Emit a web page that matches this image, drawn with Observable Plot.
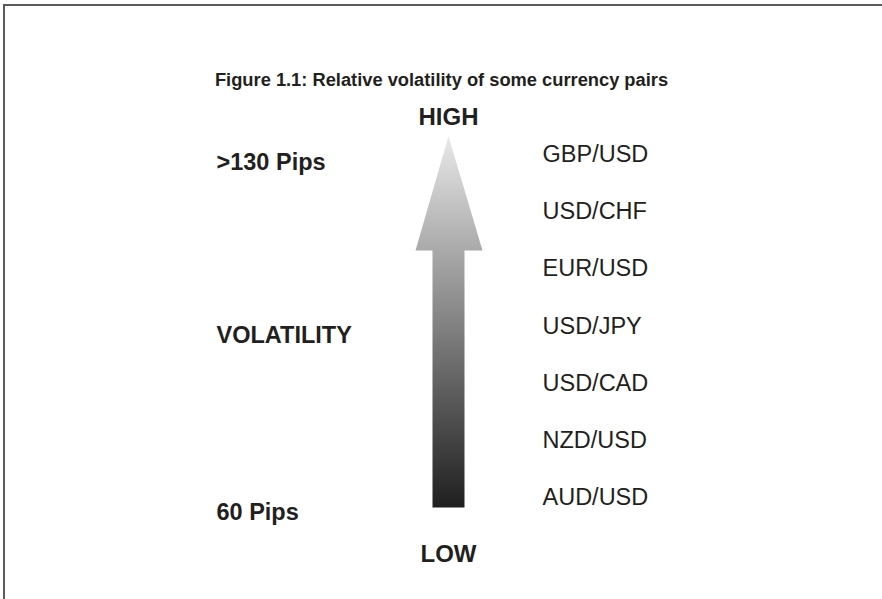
<!DOCTYPE html>
<html>
<head>
<meta charset="utf-8">
<script src="https://cdn.jsdelivr.net/npm/d3@7"></script>
<script src="https://cdn.jsdelivr.net/npm/@observablehq/plot@0.6"></script>
<style>
  html, body { margin: 0; padding: 0; background: #fff; }
  #wrap { position: relative; width: 882px; height: 599px; overflow: hidden; }
  #frame { position: absolute; left: 3px; top: 4px; width: 900px; height: 700px;
           border-left: 2px solid #5a5a5a; border-top: 2px solid #5a5a5a; pointer-events: none; }
</style>
</head>
<body>
<div id="wrap"><div id="frame"></div></div>
<script>
// Display order top to bottom in the figure (highest volatility first)
const pairsTopDown = ["GBP/USD", "USD/CHF", "EUR/USD", "USD/JPY", "USD/CAD", "NZD/USD", "AUD/USD"];
const leftLabels = [">130 Pips", "VOLATILITY", "60 Pips"];
const leftLevels = [5.86, 2.83, -0.26];
const endLabels = ["HIGH", "LOW"];
const endLevels = [6.65, -1.0];
const titleText = "Figure 1.1: Relative volatility of some currency pairs";

const pairRows = pairsTopDown.map((p, i) => ({label: p, level: pairsTopDown.length - 1 - i}));
const leftRows = leftLabels.map((l, i) => ({label: l, level: leftLevels[i]}));
const endRows = endLabels.map((l, i) => ({label: l, level: endLevels[i]}));

// Arrow outline in (column, level) space
const arrowX = [448, 482, 464, 464, 432, 432, 415];
const arrowLevel = [6.32, 4.32, 4.32, -0.175, -0.175, 4.32, 4.32];
const arrow = arrowX.map((x, i) => ({x, level: arrowLevel[i]}));

const font = "'Liberation Sans', Arial, Helvetica, sans-serif";

const defs = () => {
  const svgNS = "http://www.w3.org/2000/svg";
  const d = document.createElementNS(svgNS, "defs");
  d.innerHTML = `<linearGradient id="arrowGrad" x1="0" y1="0" x2="0" y2="1">
      <stop offset="0" stop-color="#e9e9e9"/>
      <stop offset="0.31" stop-color="#a9a9a9"/>
      <stop offset="1" stop-color="#1f1f1f"/>
    </linearGradient>`;
  return d;
};

const chart = Plot.plot({
  width: 882,
  height: 599,
  margin: 0,
  style: {fontFamily: font, background: "transparent"},
  x: {domain: [0, 882], range: [0, 882], axis: null},
  y: {domain: [-1.784, 8.693], range: [599, 0], axis: null},
  marks: [
    defs,
    Plot.line(arrow, {x: "x", y: "level", fill: "url(#arrowGrad)", stroke: "none", curve: "linear-closed"}),
    Plot.text([titleText], {x: [441], y: [7.3], text: d => d, fontSize: 18.3, fontWeight: "bold", fill: "#231f20"}),
    Plot.text(endRows, {x: 448, y: "level", text: "label", fontSize: 24, fontWeight: "bold", fill: "#231f20"}),
    Plot.text(leftRows, {x: 216, y: "level", text: "label", textAnchor: "start", fontSize: 23.5, fontWeight: "bold", fill: "#231f20"}),
    Plot.text(pairRows, {x: 542, y: "level", text: "label", textAnchor: "start", fontSize: 23.5, fill: "#231f20"})
  ]
});
document.getElementById("wrap").prepend(chart);
</script>
</body>
</html>
